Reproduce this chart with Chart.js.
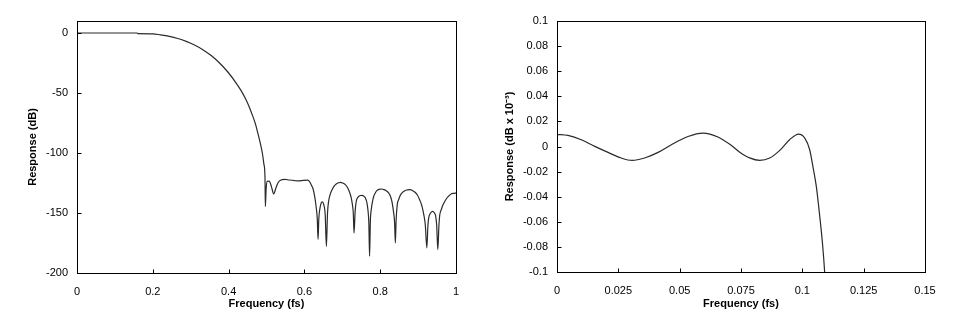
<!DOCTYPE html>
<html>
<head>
<meta charset="utf-8">
<script src="https://cdn.jsdelivr.net/npm/chart.js@4/dist/chart.umd.min.js"></script>
<style>
  body { margin: 0; background: #fff; }
  #wrap { position: relative; width: 974px; height: 321px; }
  .box { position: absolute; top: 0; width: 487px; height: 321px; }
</style>
</head>
<body>
<div id="wrap">
  <div class="box" style="left:0"><canvas id="myChart1" width="487" height="321"></canvas></div>
  <div class="box" style="left:487px"><canvas id="myChart2" width="487" height="321"></canvas></div>
</div>
<script>
// full response
var leftFreq = [0, 0.05, 0.10, 0.159, 0.161, 0.20, 0.22, 0.244, 0.266, 0.288, 0.31, 0.332, 0.354, 0.376, 0.398,
    0.42, 0.433, 0.446, 0.455, 0.464, 0.471, 0.477, 0.483, 0.489, 0.493, 0.496, 0.497, 0.499, 0.502, 0.507,
    0.513, 0.519, 0.525, 0.530, 0.538, 0.548, 0.56, 0.574, 0.585, 0.597, 0.609, 0.614, 0.618, 0.623, 0.627,
    0.631, 0.634, 0.636, 0.638, 0.642, 0.647, 0.651, 0.655, 0.658, 0.661, 0.664, 0.668, 0.673, 0.678, 0.684,
    0.69, 0.695, 0.701, 0.708, 0.714, 0.719, 0.723, 0.726, 0.729, 0.731, 0.734, 0.737, 0.741, 0.744, 0.748,
    0.752, 0.757, 0.761, 0.765, 0.768, 0.770, 0.772, 0.774, 0.777, 0.780, 0.783, 0.787, 0.791, 0.797, 0.803,
    0.81, 0.816, 0.822, 0.827, 0.831, 0.835, 0.838, 0.840, 0.842, 0.845, 0.849, 0.853, 0.859, 0.865, 0.872,
    0.878, 0.885, 0.891, 0.898, 0.904, 0.91, 0.915, 0.919, 0.923, 0.926, 0.928, 0.933, 0.939, 0.943, 0.946,
    0.949, 0.952, 0.955, 0.957, 0.962, 0.966, 0.971, 0.976, 0.982, 0.988, 0.994, 1.0];
var leftDb = [0, 0, 0, 0, -0.6, -0.7, -1.5, -2.8, -4.6, -7, -10, -13.9, -18.8, -25, -32.5,
    -41.7, -48, -55.6, -62, -69.5, -76, -83.3, -91, -100, -109, -120, -144.5, -130, -123.6, -123.5,
    -128, -134, -129, -125, -122.5, -122, -122.5, -123, -123.3, -122.8, -122.6, -124, -126.4, -130, -136,
    -145, -155, -172, -155, -144.5, -140.8, -143, -152, -177.8, -150, -140, -134.5, -130.6, -127.8, -125.9,
    -124.8, -124.5, -125, -126.4, -129, -132.5, -136.5, -141.7, -150, -166.7, -148, -140, -137, -136, -135.4,
    -135.3, -136, -137.5, -141.5, -148.6, -158, -186, -157, -145.8, -140, -136, -133.3, -131.4, -130.3, -130,
    -130.5, -131.4, -133.2, -136, -140.5, -148.6, -158, -175, -156, -143, -138.5, -135.3, -132.8, -131.4, -130.8,
    -130.6, -131.2, -132.5, -135, -138.9, -144, -151.4, -160, -179, -160, -154, -150, -148.6, -150, -152,
    -160, -180.6, -160, -152, -146.5, -143, -140, -137.5, -135.5, -134, -133.6, -133.3];

// passband detail
var rightFreq = [0, 0.0045, 0.0099, 0.0154, 0.0208, 0.0262, 0.0306, 0.0357, 0.0412, 0.0466, 0.0534, 0.0595,
    0.0656, 0.0711, 0.0745, 0.0785, 0.0826, 0.0867, 0.0908, 0.0948, 0.0985, 0.101, 0.103, 0.1043, 0.1057,
    0.1071, 0.1082, 0.1091, 0.1098];
var rightResp = [0.0097, 0.0088, 0.0054, 0.0001, -0.0047, -0.0092, -0.0111, -0.0092, -0.0047, 0.0014, 0.008, 0.0107,
    0.0076, 0.0008, -0.0045, -0.0091, -0.0111, -0.0092, -0.0031, 0.0054, 0.0099, 0.0067, -0.0026, -0.0159, -0.0318,
    -0.0557, -0.0769, -0.1, -0.125];

// tick values
var leftXTicks = [0, 0.2, 0.4, 0.6, 0.8, 1];
var leftYTicks = [0, -50, -100, -150, -200];
var rightXTicks = [0, 0.025, 0.05, 0.075, 0.1, 0.125, 0.15];
var rightYTicks = [0.1, 0.08, 0.06, 0.04, 0.02, 0, -0.02, -0.04, -0.06, -0.08, -0.1];

function toPoints(xs, ys) {
    return xs.map(function (x, i) { return { x: x, y: ys[i] }; });
}

// box around the plot area plus short inward tick marks
var framePlugin = {
    id: 'frame',
    afterDraw: function (chart) {
        var c = chart.ctx, a = chart.chartArea;
        var l = Math.round(a.left) + 0.5, r = Math.round(a.right) + 0.5;
        var t = Math.round(a.top) + 0.5, b = Math.round(a.bottom) + 0.5;
        c.save();
        c.strokeStyle = '#000';
        c.lineWidth = 1;
        c.strokeRect(l, t, r - l, b - t);
        c.beginPath();
        chart.scales.y.ticks.forEach(function (tk) {
            var y = Math.round(chart.scales.y.getPixelForValue(tk.value)) + 0.5;
            c.moveTo(l, y); c.lineTo(l + 4, y);
        });
        chart.scales.x.ticks.forEach(function (tk) {
            var x = Math.round(chart.scales.x.getPixelForValue(tk.value)) + 0.5;
            c.moveTo(x, b); c.lineTo(x, b - 4);
        });
        c.stroke();
        c.restore();
    }
};

function makeChart(id, pts, xr, yr, xt, yt, yTitle, pad, yWidth, xHeight, yTitlePad) {
    var ctx = document.getElementById(id).getContext('2d');
    return new Chart(ctx, {
        type: 'line',
        data: {
            datasets: [{
                data: pts,
                borderColor: '#2a2a2a',
                borderWidth: 1.2,
                pointRadius: 0,
                cubicInterpolationMode: 'monotone'
            }]
        },
        options: {
            responsive: false,
            animation: false,
            layout: { padding: pad },
            plugins: { legend: { display: false }, tooltip: { enabled: false } },
            scales: {
                x: {
                    type: 'linear', min: xr[0], max: xr[1],
                    grid: { display: false, drawTicks: false },
                    border: { display: false },
                    afterBuildTicks: function (s) { s.ticks = xt.map(function (v) { return { value: v }; }); },
                    afterFit: function (s) { s.height = xHeight; },
                    ticks: {
                        padding: 12, color: '#000', maxRotation: 0, autoSkip: false,
                        font: { family: 'Liberation Sans, Arial, sans-serif', size: 11 },
                        callback: function (v) { return String(v); }
                    },
                    title: {
                        display: true, text: 'Frequency (fs)', color: '#000',
                        font: { family: 'Liberation Sans, Arial, sans-serif', size: 11, weight: 'bold' },
                        padding: { top: 0, bottom: 10 }
                    }
                },
                y: {
                    type: 'linear', min: yr[0], max: yr[1],
                    grid: { display: false, drawTicks: false },
                    border: { display: false },
                    afterBuildTicks: function (s) { s.ticks = yt.map(function (v) { return { value: v }; }); },
                    afterFit: function (s) { s.width = yWidth; },
                    ticks: {
                        padding: 9, color: '#000', autoSkip: false,
                        font: { family: 'Liberation Sans, Arial, sans-serif', size: 11 },
                        callback: function (v) { return String(v); }
                    },
                    title: {
                        display: true, text: yTitle, color: '#000',
                        font: { family: 'Liberation Sans, Arial, sans-serif', size: 11, weight: 'bold' },
                        padding: { top: yTitlePad, bottom: 0 }
                    }
                }
            }
        },
        plugins: [framePlugin]
    });
}

makeChart('myChart1', toPoints(leftFreq, leftDb), [0, 1], [-200, 10], leftXTicks, leftYTicks,
    'Response (dB)', { top: 21, right: 31, left: 0, bottom: 0 }, 77, 48, 26);

makeChart('myChart2', toPoints(rightFreq, rightResp), [0, 0.15], [-0.1, 0.1], rightXTicks, rightYTicks,
    'Response (dB x 10\u207B\u00B3)', { top: 21, right: 49, left: 0, bottom: 0 }, 70, 49, 16);
</script>
</body>
</html>
